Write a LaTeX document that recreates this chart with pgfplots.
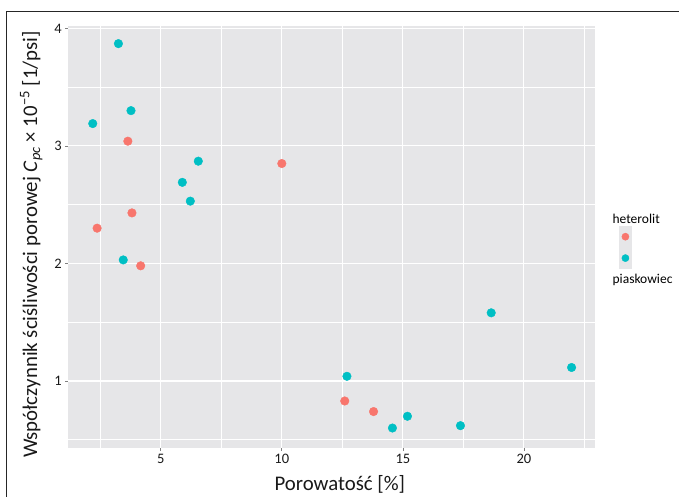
\documentclass[border=0pt]{standalone}
\usepackage{pgfplots}
\pgfplotsset{compat=1.18}
\usepackage{fontspec}
\setmainfont{Carlito}
\definecolor{hetred}{HTML}{F8766D}
\definecolor{piateal}{HTML}{00BFC4}
\definecolor{panel}{HTML}{E6E6E8}
\begin{document}
\begin{tikzpicture}[x=1pt,y=1pt]
\useasboundingbox (0,0) rectangle (679,496);
\draw[line width=1.4pt, black!85] (6.7,-5) -- (6.7,484.3) -- (685,484.3);
\begin{axis}[
  at={(68.3pt,48pt)}, anchor=south west, scale only axis,
  width=527pt, height=422pt,
  xmin=1.18, xmax=22.95, ymin=0.43, ymax=4.02,
  axis background/.style={fill=panel},
  axis line style={draw=none},
  xtick={5,10,15,20}, ytick={1,2,3,4},
  minor xtick={2.5,7.5,12.5,17.5,22.5}, minor ytick={0.5,1.5,2.5,3.5},
  grid=both,
  major grid style={white, line width=1.2pt},
  minor grid style={white, line width=0.6pt},
  tick align=outside, xtick pos=bottom, ytick pos=left,
  major tick length=3pt, minor tick length=0pt,
  tick style={black!50, line width=0.7pt},
  /pgf/number format/assume math mode=true,
  ticklabel style={font=\fontsize{14.5}{16}\selectfont, text=black!90},
  every axis x label/.style={at={(axis description cs:0.5,0)}, anchor=center, yshift=-36pt, xshift=8pt},
  every axis y label/.style={at={(axis description cs:0,0.5)}, rotate=90, anchor=center, yshift=37pt, xshift=-7.5pt},
  label style={font=\fontsize{20.8}{24}\selectfont, text=black!90},
  xlabel={Porowatość [\%]},
  ylabel={Współczynnik ściśliwości porowej \textit{C}\textsubscript{\textit{pc}} × 10\textsuperscript{−5} [1/psi]},
  legend style={draw=none, fill=none, at={(axis description cs:1.045,0.568)}, anchor=north west,
    font=\fontsize{13.5}{20}\selectfont, row sep=0pt, inner sep=0pt,
    nodes={inner sep=1pt}},
  legend cell align=left,
]
\addplot[only marks, mark=*, mark size=4.3pt, color=hetred, forget plot]
  coordinates {(3.64,3.04) (10.0,2.85) (3.81,2.43) (2.37,2.30) (4.17,1.98) (12.60,0.83) (13.79,0.74)};
\addplot[only marks, mark=*, mark size=4.3pt, color=piateal, forget plot]
  coordinates {(3.25,3.87) (3.77,3.30) (2.19,3.19) (6.55,2.87) (5.89,2.69) (6.22,2.53) (3.45,2.03)
  (18.65,1.58) (21.97,1.115) (12.69,1.04) (15.19,0.70) (14.57,0.60) (17.38,0.62)};
\addlegendimage{legend image code/.code={}}
\addlegendentry{\hspace*{-20pt}heterolit\strut}
\addlegendimage{legend image code/.code={\fill[panel] (0pt,-10.5pt) rectangle (12pt,10.5pt); \fill[hetred] (6pt,0pt) circle (3.6pt);}}
\addlegendentry{\strut}
\addlegendimage{legend image code/.code={\fill[panel] (0pt,-10.5pt) rectangle (12pt,10.5pt); \fill[piateal] (6pt,0pt) circle (3.6pt);}}
\addlegendentry{\strut}
\addlegendimage{legend image code/.code={}}
\addlegendentry{\hspace*{-20pt}piaskowiec\strut}
\end{axis}
\end{tikzpicture}
\end{document}
